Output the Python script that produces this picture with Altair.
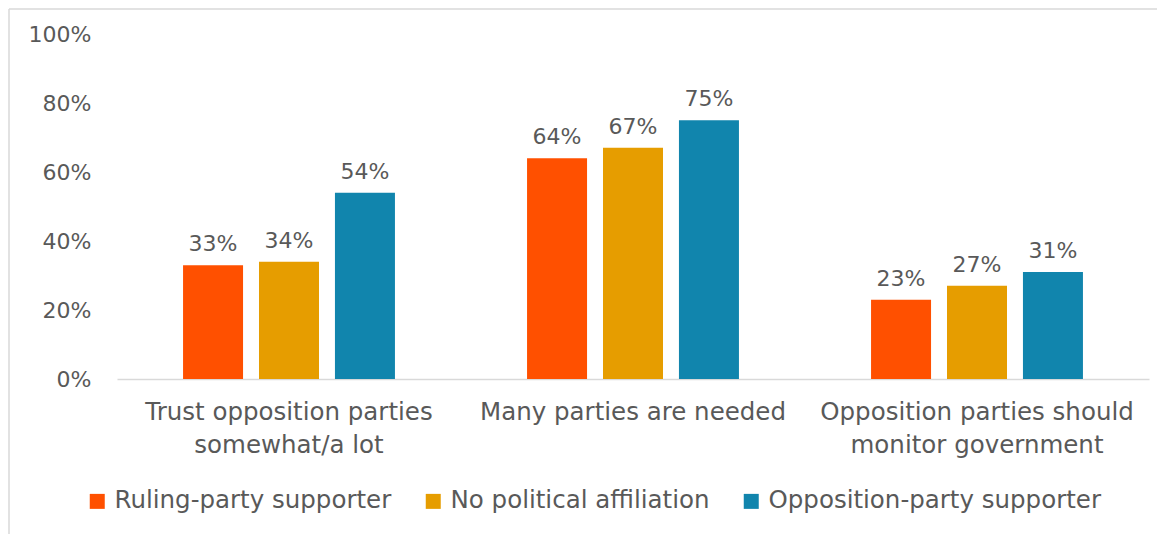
import altair as alt
import pandas as pd

categories = [
    "Trust opposition parties|somewhat/a lot",
    "Many parties are needed",
    "Opposition parties should|monitor government",
]
series = ["Ruling-party supporter", "No political affiliation", "Opposition-party supporter"]
ruling = [33, 64, 23]
no_affiliation = [34, 67, 27]
opposition = [54, 75, 31]
colors = ["#FF5000", "#E69D00", "#1185AD"]
y_ticks = [0, 20, 40, 60, 80, 100]

rows = []
for s, vals in zip(series, [ruling, no_affiliation, opposition]):
    for c, v in zip(categories, vals):
        rows.append({"category": c, "series": s, "value": v})
df = pd.DataFrame(rows)

FONT = "DejaVu Sans"
TXT = "#595959"

base = alt.Chart(df).encode(
    x=alt.X(
        "category:N",
        sort=categories,
        scale=alt.Scale(paddingInner=0.384, paddingOuter=0.192),
        axis=alt.Axis(
            title=None, labelAngle=0, labelExpr="split(datum.label, '|')",
            labelFontSize=24.5, labelColor=TXT, labelFont=FONT, labelPadding=21,
            labelLineHeight=33, labelLimit=0, ticks=False, domainColor="#D9D9D9", domainWidth=1.5,
        ),
    ),
    xOffset=alt.XOffset("series:N", sort=series, scale=alt.Scale(paddingInner=0.21, paddingOuter=0)),
    y=alt.Y(
        "value:Q",
        scale=alt.Scale(domain=[0, 100]),
        axis=alt.Axis(
            title=None, values=y_ticks, labelExpr="datum.value + '%'", grid=False,
            domain=False, ticks=False, labelFontSize=22, labelColor=TXT, labelFont=FONT,
            labelPadding=26, minExtent=108, maxExtent=108,
        ),
    ),
)

bars = base.mark_bar().encode(
    color=alt.Color(
        "series:N",
        sort=series,
        scale=alt.Scale(domain=series, range=colors),
        legend=alt.Legend(
            title=None, orient="none", legendX=-32, legendY=455, direction="horizontal",
            symbolType="square", symbolSize=225, symbolStrokeWidth=0, labelFontSize=24.5,
            labelColor=TXT, labelFont=FONT, labelLimit=0, columnPadding=29, labelOffset=5,
        ),
    )
)

labels = base.transform_calculate(lab="datum.value + '%'").mark_text(
    baseline="bottom", dy=-9, fontSize=22, font=FONT, color=TXT
).encode(text="lab:N")

border_df = pd.DataFrame({"k": [0]})
left_border = alt.Chart(border_df).mark_rule(color="#D9D9D9", strokeWidth=1.5).encode(
    x=alt.value(-108), y=alt.value(-25), y2=alt.value(500)
)
top_border = alt.Chart(border_df).mark_rule(color="#D9D9D9", strokeWidth=1.5).encode(
    x=alt.value(-108), x2=alt.value(1040), y=alt.value(-25)
)

chart = alt.layer(left_border, top_border, bars, labels).properties(
    width=1032, height=345, background="white",
    padding={"left": 0, "top": 0, "right": 0, "bottom": 0},
).configure_view(strokeWidth=0)

chart.save("out.html", embed_options={"renderer": "svg", "actions": False})
